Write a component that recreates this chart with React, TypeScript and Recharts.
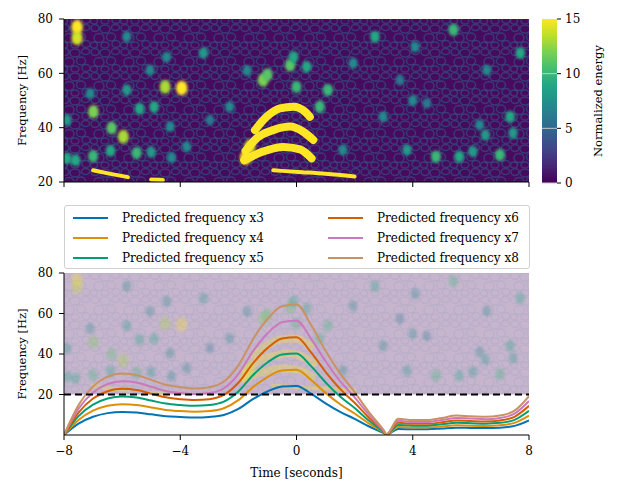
import React from 'react';
import { ComposedChart, BarChart, Bar, Line, Scatter, XAxis, YAxis, ReferenceArea, ReferenceLine, Label } from 'recharts';

const FONT = '"DejaVu Serif", serif';

const TIME_TICKS = [-8, -4, 0, 4, 8];
const FREQ_TICKS = [20, 40, 60, 80];
const ENERGY_TICKS = [0, 5, 10, 15];
const ENERGY_MAX = 15;

// predicted harmonic tracks (Hz)
const TIMES = [-8, -7.5, -7, -6.5, -6, -5.5, -5, -4.5, -4, -3.5, -3, -2.5, -2, -1.5, -1, -0.5, 0, 0.5, 1, 1.5, 2, 2.5, 3, 3.1, 3.5, 4, 4.5, 5, 5.5, 6, 6.5, 7, 7.5, 8];
const X3 = [0, 5.6, 9.0, 10.8, 11.4, 11.1, 10.2, 9.3, 8.9, 8.6, 8.9, 9.9, 12.9, 17.7, 21.5, 23.9, 24.2, 20.4, 15.6, 11.4, 8.0, 4.2, 0.9, 0.2, 3.0, 2.8, 2.8, 3.2, 3.6, 3.5, 3.4, 3.6, 4.5, 7.2];
const X4 = [0, 7.4, 12.0, 14.4, 15.2, 14.8, 13.6, 12.4, 11.8, 11.5, 11.8, 13.2, 17.2, 23.6, 28.6, 31.8, 32.2, 27.2, 20.8, 15.2, 10.6, 5.6, 1.2, 0.2, 4.0, 3.7, 3.7, 4.2, 4.8, 4.6, 4.5, 4.8, 6.0, 9.6];
const X5 = [0, 9.3, 15.0, 18.0, 19.0, 18.5, 17.0, 15.5, 14.8, 14.4, 14.8, 16.5, 21.5, 29.5, 35.8, 39.8, 40.3, 34.0, 26.0, 19.0, 13.3, 7.0, 1.5, 0.3, 5.0, 4.6, 4.6, 5.3, 6.0, 5.8, 5.6, 6.0, 7.5, 12.0];
const X6 = [0, 11.1, 18.0, 21.6, 22.8, 22.2, 20.4, 18.6, 17.7, 17.3, 17.7, 19.8, 25.8, 35.4, 42.9, 47.7, 48.3, 40.8, 31.2, 22.8, 15.9, 8.4, 1.8, 0.3, 6.0, 5.5, 5.5, 6.3, 7.2, 6.9, 6.7, 7.2, 9.0, 14.4];
const X7 = [0, 13.0, 21.0, 25.2, 26.6, 25.9, 23.8, 21.7, 20.7, 20.2, 20.7, 23.1, 30.1, 41.3, 50.1, 55.7, 56.4, 47.6, 36.4, 26.6, 18.6, 9.8, 2.1, 0.4, 7.0, 6.4, 6.4, 7.4, 8.4, 8.1, 7.8, 8.4, 10.5, 16.8];
const X8 = [0, 14.8, 24.0, 28.8, 30.4, 29.6, 27.2, 24.8, 23.6, 23.0, 23.6, 26.4, 34.4, 47.2, 57.2, 63.6, 64.4, 54.4, 41.6, 30.4, 21.2, 11.2, 2.4, 0.4, 8.0, 7.4, 7.4, 8.4, 9.6, 9.2, 9.0, 9.6, 12.0, 19.2];

const SERIES_KEYS = ['x3', 'x4', 'x5', 'x6', 'x7', 'x8'];
const SERIES_NAMES = ['Predicted frequency x3', 'Predicted frequency x4', 'Predicted frequency x5', 'Predicted frequency x6', 'Predicted frequency x7', 'Predicted frequency x8'];
const SERIES_COLORS = ['#0173b2', '#de8f05', '#029e73', '#d55e00', '#cc78bc', '#ca9161'];

// saturated chirp arcs in the spectrogram: [time, freq]
const ARC_LOW = [[-1.8, 28], [-1.15, 31.2], [-0.46, 32.9], [0.12, 32], [0.52, 28.7]];
const ARC_MID = [[-1.75, 31.5], [-1.37, 36.1], [-0.8, 39.1], [-0.22, 40.4], [0.23, 38.5], [0.58, 35.5]];
const ARC_HIGH = [[-1.43, 39.1], [-1.03, 44], [-0.57, 47.1], [-0.11, 47.7], [0.29, 45.9], [0.46, 44]];
const STREAKS = [
  [[-7.0, 24.3], [-6.4, 23], [-5.8, 21.8]],
  [[-0.8, 24.3], [0.2, 23.6], [1.0, 23], [2.0, 22]],
  [[-5.0, 20.9], [-4.6, 20.7]],
];

// brighter spots of the spectrogram: [time, freq, energy]
const BLOBS = [
  [-7.55, 77, 15], [-7.55, 73, 14], [-4.52, 55, 13], [-3.95, 54.6, 15], [-6.99, 45.9, 12], [-6.36, 39.9, 11],
  [-5.96, 36.7, 13], [-5.5, 30.7, 10], [-1.15, 57.5, 12], [-1.0, 59.5, 11], [-0.22, 63, 11], [0, 55, 10],
  [-0.1, 66, 9], [-5.4, 47, 9], [-4.9, 47.6, 9], [-7.9, 42.8, 8], [-7.6, 28, 9], [-7.0, 29.5, 10],
  [-6.4, 31.5, 9], [-5.0, 31, 8], [-4.3, 29, 7], [-5.84, 53.9, 8], [-5.04, 61.2, 7], [-3.2, 67.5, 8],
  [-5.84, 73.5, 7], [-4.47, 66, 7], [-1.7, 61, 7], [-2.3, 47.7, 7], [-2.98, 42.8, 6], [-7.1, 52.6, 7],
  [-3.78, 33, 7], [-4.35, 40.4, 7], [-7.9, 28.7, 9], [-1.75, 29, 15], [-1.6, 33, 14],
  [1.08, 53.9, 10], [2.7, 73.5, 9], [5.4, 76, 10], [7.7, 67.5, 9], [4.08, 69.8, 7], [4.8, 29.3, 10],
  [5.6, 29.3, 9], [7.0, 30, 10], [6.3, 41, 7], [7.35, 44, 9], [6.5, 37.3, 8], [3.8, 31.8, 8],
  [0.8, 47.7, 10], [0.35, 62.4, 9], [4.0, 50, 7], [1.95, 63.7, 7], [3.56, 57.5, 6], [6.55, 61.2, 7],
  [4.48, 49, 6], [7.45, 38, 8], [2.98, 44, 7], [1.6, 31.8, 7], [6.07, 31.2, 8],
];

const VIRIDIS = ['#440154', '#482475', '#414487', '#355f8d', '#2a788e', '#21918c', '#22a884', '#44bf70', '#7ad151', '#bddf26', '#fde725'];

const viridis = (v: number) => {
  const t = Math.max(0, Math.min(1, v));
  const s = t * (VIRIDIS.length - 1);
  const i = Math.min(Math.floor(s), VIRIDIS.length - 2);
  const f = s - i;
  const a = parseInt(VIRIDIS[i].slice(1), 16);
  const b = parseInt(VIRIDIS[i + 1].slice(1), 16);
  const ch = (sh: number) => Math.round(((a >> sh) & 255) * (1 - f) + ((b >> sh) & 255) * f);
  return `rgb(${ch(16)},${ch(8)},${ch(0)})`;
};

const lineData = TIMES.map((t, i) => ({ t, x3: X3[i], x4: X4[i], x5: X5[i], x6: X6[i], x7: X7[i], x8: X8[i] }));
const blobData = BLOBS.map(([t, f, e]) => ({ t, f, e }));
const toPts = (arr: number[][]) => arr.map(([t, f]) => ({ t, f }));
const colorbarData = [{ name: 'energy', top: ENERGY_MAX }];

const fmtTime = (v: number) => (v < 0 ? `\u2212${Math.abs(v)}` : `${v}`);
const tickStyle = { fill: '#000', fontSize: 12, fontFamily: FONT };

const SpecDefs = ({ id }: { id: string }) => (
  <defs>
    <filter id={`soft-${id}`} x="-50%" y="-50%" width="200%" height="200%">
      <feGaussianBlur stdDeviation="1.7" />
    </filter>
    <pattern id={`mesh-${id}`} width="30" height="24" patternUnits="userSpaceOnUse">
      <g fill="none" stroke="#2b6c8e" strokeOpacity="0.55" strokeWidth="1.4">
        <ellipse cx="5" cy="4" rx="4" ry="3.5" />
        <ellipse cx="15" cy="5" rx="5" ry="4" />
        <ellipse cx="25.5" cy="3.5" rx="4" ry="3" />
        <ellipse cx="9" cy="14" rx="5" ry="4.5" />
        <ellipse cx="21" cy="13" rx="4.5" ry="4" />
        <ellipse cx="4" cy="21" rx="3.5" ry="3" />
        <ellipse cx="15" cy="21" rx="4" ry="3" />
        <ellipse cx="26" cy="20" rx="4" ry="3.5" />
      </g>
    </pattern>
  </defs>
);

const specLayers = (id: string, opacity: number, meshOpacity: number) => {
  const blobShape = (p: any) => {
    const e = p.payload.e;
    return (
      <ellipse cx={p.cx} cy={p.cy} rx={3.5 + e * 0.15} ry={4 + e * 0.22} fill={viridis(e / ENERGY_MAX)}
        opacity={opacity} filter={`url(#soft-${id})`} />
    );
  };
  const arcs = [ARC_LOW, ARC_MID, ARC_HIGH];
  return [
    <ReferenceArea key="bg" x1={-8} x2={8} y1={20} y2={80} fill="#460a5e" fillOpacity={opacity} stroke="none" zIndex={-30} />,
    <ReferenceArea key="mesh" x1={-8} x2={8} y1={20} y2={80} fill={`url(#mesh-${id})`} fillOpacity={meshOpacity} stroke="none" zIndex={-25} />,
    <Scatter key="blobs" data={blobData} dataKey="f" shape={blobShape} isAnimationActive={false} zIndex={-20} />,
    ...arcs.map((a, i) => (
      <Line key={`arc${i}`} data={toPts(a)} dataKey="f" type="monotone" stroke="#fde725" strokeOpacity={opacity}
        strokeWidth={8} strokeLinecap="round" dot={false} isAnimationActive={false} zIndex={-10} />
    )),
    ...STREAKS.map((a, i) => (
      <Line key={`streak${i}`} data={toPts(a)} dataKey="f" type="monotone" stroke="#fde725" strokeOpacity={opacity}
        strokeWidth={4} strokeLinecap="round" dot={false} isAnimationActive={false} zIndex={-10} />
    )),
  ];
};

const axisLabel = (text: string, dx: number) => (p: any) => {
  const vb = p.viewBox;
  const x = vb.x + dx;
  const y = vb.y + vb.height / 2;
  return (
    <text x={x} y={y} transform={`rotate(-90 ${x} ${y})`} textAnchor="middle" dominantBaseline="central"
      fontFamily={FONT} fontSize={11.5} fill="#000">{text}</text>
  );
};

const timeLabel = (p: any) => {
  const vb = p.viewBox;
  return (
    <text x={vb.x + vb.width / 2} y={vb.y + 42} textAnchor="middle" fontFamily={FONT} fontSize={12} fill="#000">
      Time [seconds]
    </text>
  );
};

const TopPanel = () => (
  <ComposedChart width={623} height={200} margin={{ top: 19, right: 94, bottom: 0, left: 14 }} style={{ fontFamily: FONT }}>
    <SpecDefs id="top" />
    <XAxis dataKey="t" type="number" domain={[-8, 8]} ticks={TIME_TICKS} allowDataOverflow
      tickFormatter={() => ''} height={18} tickSize={5} axisLine={{ stroke: '#000' }} tickLine={{ stroke: '#000' }} />
    <XAxis xAxisId="top" orientation="top" type="number" domain={[-8, 8]} height={0} tick={false} tickLine={false}
      axisLine={{ stroke: '#000' }} />
    <YAxis type="number" domain={[20, 80]} ticks={FREQ_TICKS} allowDataOverflow width={50} tickSize={5} tickMargin={6}
      tick={tickStyle} axisLine={{ stroke: '#000' }} tickLine={{ stroke: '#000' }}>
      <Label content={axisLabel('Frequency [Hz]', 8)} />
    </YAxis>
    <YAxis yAxisId="right" orientation="right" type="number" domain={[0, 1]} width={0} tick={false} tickLine={false}
      axisLine={{ stroke: '#000' }} />
    {specLayers('top', 1, 0.9)}
  </ComposedChart>
);

const ColorBar = () => (
  <BarChart width={623} height={200} data={colorbarData} barCategoryGap={0}
    margin={{ top: 19, right: 0, bottom: 17, left: 542 }} style={{ fontFamily: FONT }}>
    <defs>
      <linearGradient id="viridisGrad" x1="0" y1="1" x2="0" y2="0">
        {VIRIDIS.map((c, i) => (
          <stop key={c} offset={`${(i / (VIRIDIS.length - 1)) * 100}%`} stopColor={c} />
        ))}
      </linearGradient>
    </defs>
    <XAxis dataKey="name" hide />
    <YAxis orientation="right" type="number" domain={[0, ENERGY_MAX]} ticks={ENERGY_TICKS} width={66} tickSize={4}
      tickMargin={4} tick={tickStyle} axisLine={false} tickLine={{ stroke: '#000' }}>
      <Label content={axisLabel('Normalized energy', 41)} />
    </YAxis>
    <Bar dataKey="top" fill="url(#viridisGrad)" isAnimationActive={false} />
    {[0, 5, 10].map((v) => (
      <ReferenceLine key={v} y={v} stroke="#c8c8c8" strokeWidth={1} />
    ))}
  </BarChart>
);

const BottomPanel = () => (
  <ComposedChart width={623} height={298} margin={{ top: 73, right: 94, bottom: 3, left: 14 }} style={{ fontFamily: FONT }}>
    <SpecDefs id="bot" />
    <XAxis dataKey="t" type="number" domain={[-8, 8]} ticks={TIME_TICKS} allowDataOverflow tickFormatter={fmtTime}
      height={60} tickSize={5} tickMargin={6} tick={tickStyle} axisLine={{ stroke: '#000' }} tickLine={{ stroke: '#000' }}>
      <Label content={timeLabel} />
    </XAxis>
    <XAxis xAxisId="top" orientation="top" type="number" domain={[-8, 8]} height={0} tick={false} tickLine={false}
      axisLine={{ stroke: '#000' }} />
    <YAxis type="number" domain={[0, 80]} ticks={FREQ_TICKS} allowDataOverflow width={50} tickSize={5} tickMargin={6}
      tick={tickStyle} axisLine={{ stroke: '#000' }} tickLine={{ stroke: '#000' }}>
      <Label content={axisLabel('Frequency [Hz]', 8)} />
    </YAxis>
    <YAxis yAxisId="right" orientation="right" type="number" domain={[0, 1]} width={0} tick={false} tickLine={false}
      axisLine={{ stroke: '#000' }} />
    {specLayers('bot', 0.3, 0.15)}
    {SERIES_KEYS.map((k, i) => (
      <Line key={k} data={lineData} dataKey={k} name={SERIES_NAMES[i]} type="monotone" stroke={SERIES_COLORS[i]}
        strokeWidth={2} dot={false} isAnimationActive={false} zIndex={400} />
    ))}
    <ReferenceLine y={20} stroke="#000" strokeWidth={2} strokeDasharray="7 4" zIndex={450} />
  </ComposedChart>
);

const LegendBox = () => (
  <div style={{ position: 'absolute', left: 64, top: 205, width: 464, height: 62, border: '1px solid #d0d0d0',
    borderRadius: 3, background: '#fff', fontFamily: FONT, fontSize: 12, color: '#000' }}>
    {SERIES_NAMES.map((n, i) => (
      <div key={n} style={{ position: 'absolute', left: 8 + Math.floor(i / 3) * 255, top: 3 + (i % 3) * 19.8, height: 18,
        display: 'flex', alignItems: 'center', whiteSpace: 'nowrap' }}>
        <span style={{ display: 'inline-block', width: 35, height: 2, background: SERIES_COLORS[i] }} />
        <span style={{ marginLeft: 14 }}>{n}</span>
      </div>
    ))}
  </div>
);

export default function App() {
  return (
    <div style={{ position: 'absolute', left: 0, top: 0, width: 623, height: 498, background: '#fff', fontFamily: FONT }}>
      <div style={{ position: 'absolute', left: 0, top: 0 }}>
        <TopPanel />
      </div>
      <div style={{ position: 'absolute', left: 0, top: 0 }}>
        <ColorBar />
      </div>
      <div style={{ position: 'absolute', left: 0, top: 200 }}>
        <BottomPanel />
      </div>
      <LegendBox />
    </div>
  );
}
